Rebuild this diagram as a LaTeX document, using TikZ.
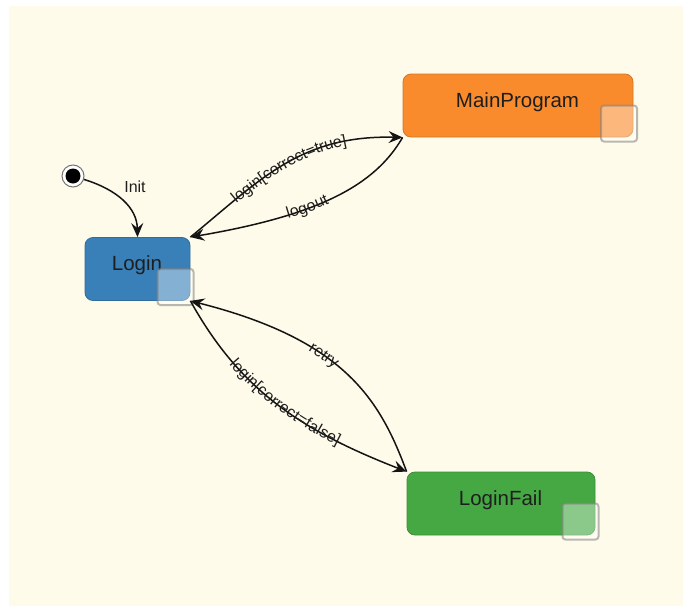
\documentclass[tikz,border=0pt]{standalone}
\usepackage{fontspec}
\setmainfont{Liberation Sans}
\usetikzlibrary{arrows.meta,decorations.text}
\definecolor{bgcream}{HTML}{FFFBEA}
\definecolor{loginblue}{HTML}{3A80B8}
\definecolor{mainorange}{HTML}{F98B2C}
\definecolor{failgreen}{HTML}{45A843}
\definecolor{txtdark}{HTML}{1E1E1E}
\newcommand{\statefont}{\fontsize{20.5}{24}\selectfont}
\newcommand{\lblfont}{\fontsize{16}{18}\selectfont}
\begin{document}
\begin{tikzpicture}[x=1pt,y=-1pt,
  statebox/.style={rectangle, rounded corners=8pt, line width=0.8pt, inner sep=0pt, minimum height=63pt},
  cornerbox/.style={rectangle, rounded corners=3pt, minimum size=36pt, inner sep=0pt, fill=white, fill opacity=0.38, draw=gray, draw opacity=0.55, line width=2pt},
  statetext/.style={anchor=base, font=\statefont, text=txtdark, inner sep=0pt},
  trans/.style={draw=black!92, line width=1.5pt, -{Stealth[length=14pt,width=12pt,inset=5pt]}},
  lbltext/.style={font=\lblfont, text=txtdark, inner sep=0pt},
  alongtext/.style={decorate, decoration={text along path, text={|\lblfont\color{txtdark}|#1}, text align=center, raise=-4pt}}
]
\useasboundingbox (0,0) rectangle (691,608);
\fill[white] (0,0) rectangle (691,608);
\fill[bgcream] (9,6) rectangle (683,606);

% states
\node[statebox, fill=loginblue, draw=loginblue!85!black, minimum width=105pt] (login) at (137.5,269) {};
\node[statebox, fill=mainorange, draw=mainorange!85!black, minimum width=230pt] (main) at (518,105.5) {};
\node[statebox, fill=failgreen, draw=failgreen!85!black, minimum width=188pt] (fail) at (501,503.5) {};

\node[statetext] (logintxt) at (137,270) {Login};
\node[statetext] (maintxt) at (517.5,107) {MainProgram};
\node[statetext] (failtxt) at (500.5,505) {LoginFail};

\node[cornerbox] (logincorner) at (175.5,287) {};
\node[cornerbox] (maincorner) at (619,123.5) {};
\node[cornerbox] (failcorner) at (580.5,521.5) {};

% initial state
\node[circle, draw=black!55, fill=white, line width=1pt, minimum size=22pt, inner sep=0pt] (init) at (73,176) {};
\fill[black] (init.center) circle[radius=7.5pt];

% transitions
\draw[trans] (init) .. controls (118,190) and (137,208) .. (login.north);
\node[lbltext] (initlbl) at (135,187) {Init};

\draw[trans] (login.north east) .. controls (260,180) and (300,135) .. (main.south west);
\path[alongtext={login[correct=true]}] (login.north east) .. controls (260,180) and (300,135) .. (main.south west);

\draw[trans] (main.south west) .. controls (375,185) and (320,215) .. (login.north east);
\path[alongtext={logout}] (login.north east) .. controls (320,215) and (375,185) .. (main.south west);

\draw[trans] (fail.north west) .. controls (380,400) and (345,340) .. (login.south east);
\path[alongtext={retry}] (login.south east) .. controls (345,340) and (380,400) .. (fail.north west);

\draw[trans] (login.south east) .. controls (240,390) and (300,430) .. (fail.north west);
\path[alongtext={login[correct=false]}] (login.south east) .. controls (240,390) and (300,430) .. (fail.north west);
\end{tikzpicture}
\end{document}
